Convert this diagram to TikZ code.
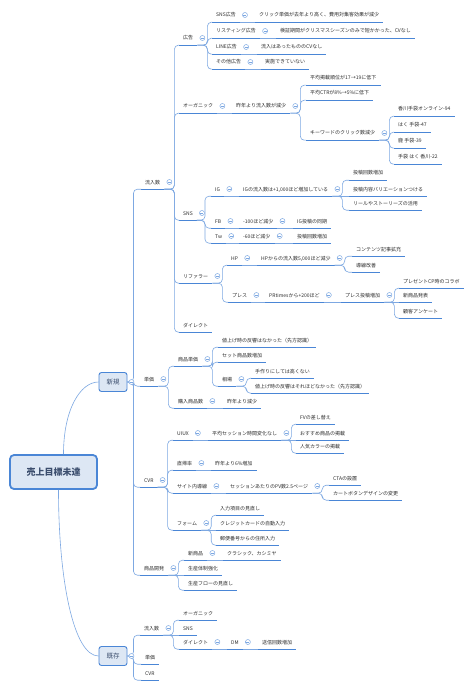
\documentclass[tikz,border=0pt]{standalone}
\usepackage{fontspec}
\setmainfont{Noto Sans CJK JP}
\usetikzlibrary{positioning}
\definecolor{cLine}{RGB}{74,134,214}
\definecolor{cLink}{RGB}{125,168,226}
\definecolor{cText}{RGB}{45,45,45}
\definecolor{cBox}{RGB}{221,231,244}
\definecolor{cBoxText}{RGB}{60,78,110}
\tikzset{
	uline/.style   ={draw=cLine, line width=1.1pt},
	topic/.style   ={anchor=west, xshift=-4pt, inner xsep=4pt, inner ysep=4pt, text height=5pt, text depth=1pt,
	                 font=\fontsize{5}{6}\selectfont, text=cText,
	                 append after command={(\tikzlastnode.south west) edge[uline] (\tikzlastnode.south east)}},
	conn/.style    ={draw=cLink, line width=0.6pt, rounded corners=4pt},
	fold/.style    ={circle, draw=cLink, fill=white, line width=0.5pt, minimum size=5pt, inner sep=0pt,
	                 path picture={\draw[cLink, line width=0.5pt] ([xshift=-1.5pt]path picture bounding box.center) -- ([xshift=1.5pt]path picture bounding box.center);}},
	rootbox/.style ={rectangle, rounded corners=4pt, draw=cLine, line width=1.8pt, fill=cBox, minimum width=87pt, minimum height=34pt,
	                 font=\fontsize{9}{11}\selectfont\bfseries, text=cBoxText},
	mainbox/.style ={rectangle, rounded corners=2.5pt, draw=cLine, line width=0.9pt, fill=cBox, minimum width=28pt, minimum height=19pt,
	                 font=\fontsize{6.5}{8}\selectfont, text=cBoxText},
}
\begin{document}
\begin{tikzpicture}[x=1pt, y=-1pt]
	\fill[white] (0,0) rectangle (474,687);
	\useasboundingbox (0,0) rectangle (474,687);
	% main boxes
	\node[rootbox] (root) at (53.5,472) {売上目標未達};
	\node[mainbox] (new) at (113,382) {新規};
	\node[mainbox] (exist) at (113,656) {既存};
	% 新規 / 流入数
	\node[topic] (nIn) at (145,182) {流入数};
	\node[topic] (ad) at (183,38) {広告};
	\node[topic] (adSns) at (216,15) {SNS広告};
	\node[topic] (adSnsR) at (259,15) {クリック単価が去年より高く、費用対集客効果が減少};
	\node[topic] (adList) at (216,31) {リスティング広告};
	\node[topic] (adListR) at (280,31) {検証期間がクリスマスシーズンのみで短かかった、CVなし};
	\node[topic] (adLine) at (216,47) {LINE広告};
	\node[topic] (adLineR) at (261,47) {流入はあったもののCVなし};
	\node[topic] (adOth) at (216,62) {その他広告};
	\node[topic] (adOthR) at (265,62) {実施できていない};
	\node[topic] (org) at (183,106) {オーガニック};
	\node[topic] (orgR) at (236,106) {昨年より流入数が減少};
	\node[topic] (orgA) at (310,78) {平均掲載順位が17→19に低下};
	\node[topic] (orgB) at (310,93) {平均CTRが8\%→5\%に低下};
	\node[topic] (orgK) at (310,133) {キーワードのクリック数減少};
	\node[topic] (kwA) at (398,109) {香川手袋オンライン-94};
	\node[topic] (kwB) at (398,125) {はく 手袋-47};
	\node[topic] (kwC) at (398,141) {鹿 手袋-39};
	\node[topic] (kwD) at (398,157) {手袋 はく 香川-22};
	\node[topic] (sns) at (183,213) {SNS};
	\node[topic] (ig) at (215,189) {IG};
	\node[topic] (igR) at (243,189) {IGの流入数は+1,000ほど増加している};
	\node[topic] (igA) at (353,173) {投稿回数増加};
	\node[topic] (igB) at (353,189) {投稿内容バリエーションつける};
	\node[topic] (igC) at (353,203) {リールやストーリーズの活用};
	\node[topic] (fb) at (215,221) {FB};
	\node[topic] (fbR) at (243,221) {-100ほど減少};
	\node[topic] (fbS) at (297,221) {IG投稿の同期};
	\node[topic] (tw) at (215,236) {Tw};
	\node[topic] (twR) at (243,236) {-60ほど減少};
	\node[topic] (twS) at (297,236) {投稿回数増加};
	\node[topic] (ref) at (183,276) {リファラー};
	\node[topic] (hp) at (231,258) {HP};
	\node[topic] (hpR) at (261,258) {HPからの流入数5,000ほど減少};
	\node[topic] (hpA) at (356,249) {コンテンツ記事拡充};
	\node[topic] (hpB) at (356,265) {導線改善};
	\node[topic] (pr) at (232,295) {プレス};
	\node[topic] (prR) at (269,295) {PRtimesから+200ほど};
	\node[topic] (prS) at (345,295) {プレス投稿増加};
	\node[topic] (prA) at (403,281) {プレゼントCP時のコラボ};
	\node[topic] (prB) at (403,295) {新商品発表};
	\node[topic] (prC) at (403,311) {顧客アンケート};
	\node[topic] (dir) at (183,325) {ダイレクト};
	% 新規 / 単価
	\node[topic] (nPr) at (144,379) {単価};
	\node[topic] (prc) at (178,359) {商品単価};
	\node[topic] (prcA) at (222,340) {値上げ時の反響はなかった（先方認識）};
	\node[topic] (prcB) at (222,355) {セット商品数増加};
	\node[topic] (mkt) at (222,379) {相場};
	\node[topic] (mktA) at (255,371) {手作りにしては高くない};
	\node[topic] (mktB) at (255,386) {値上げ時の反響はそれほどなかった（先方認識）};
	\node[topic] (qty) at (178,401) {購入商品数};
	\node[topic] (qtyR) at (227,401) {昨年より減少};
	% 新規 / CVR
	\node[topic] (cvr) at (144,480) {CVR};
	\node[topic] (ux) at (177,433) {UIUX};
	\node[topic] (uxR) at (212,433) {平均セッション時間変化なし};
	\node[topic] (uxA) at (300,417) {FVの差し替え};
	\node[topic] (uxB) at (300,433) {おすすめ商品の掲載};
	\node[topic] (uxC) at (300,446) {人気カラーの掲載};
	\node[topic] (bnc) at (177,463) {直帰率};
	\node[topic] (bncR) at (215,463) {昨年より6\%増加};
	\node[topic] (nav) at (177,486) {サイト内導線};
	\node[topic] (navR) at (230,486) {セッションあたりのPV数2.5ページ};
	\node[topic] (navA) at (333,478) {CTAの設置};
	\node[topic] (navB) at (333,493) {カートボタンデザインの変更};
	\node[topic] (frm) at (177,523) {フォーム};
	\node[topic] (frmA) at (220,508) {入力項目の見直し};
	\node[topic] (frmB) at (220,523) {クレジットカードの自動入力};
	\node[topic] (frmC) at (220,538) {郵便番号からの住所入力};
	% 新規 / 商品開発
	\node[topic] (dev) at (144,568) {商品開発};
	\node[topic] (devN) at (188,553) {新商品};
	\node[topic] (devNR) at (227,553) {クラシック、カシミヤ};
	\node[topic] (devA) at (188,568) {生産体制強化};
	\node[topic] (devB) at (188,583) {生産フローの見直し};
	% 既存
	\node[topic] (eIn) at (144,628) {流入数};
	\node[topic] (eOrg) at (183,613) {オーガニック};
	\node[topic] (eSns) at (183,628) {SNS};
	\node[topic] (eDir) at (183,642) {ダイレクト};
	\node[topic] (eDm) at (231,642) {DM};
	\node[topic] (eDmR) at (262,642) {送信回数増加};
	\node[topic] (ePr) at (145,657) {単価};
	\node[topic] (eCvr) at (145,673) {CVR};
	% connectors
	\draw[conn] ([xshift=10pt]root.north) .. controls +(0,-45) and +(-18,0) .. (new.west);
	\draw[conn] ([xshift=5pt]root.south) .. controls +(0,90) and +(-25,0) .. (exist.west);
	\foreach \c in {nIn,nPr,cvr,dev} \draw[conn] (new.east) -- ++(6,0) |- (\c.south west);
	\foreach \c in {eIn,ePr,eCvr} \draw[conn] (exist.east) -- ++(6,0) |- (\c.south west);
	\foreach \c in {ad,org,sns,ref,dir} \draw[conn] (nIn.south east) -- ++(10,0) |- (\c.south west);
	\foreach \c in {adSns,adList,adLine,adOth} \draw[conn] (ad.south east) -- ++(10,0) |- (\c.south west);
	\foreach \c in {orgA,orgB,orgK} \draw[conn] (orgR.south east) -- ++(10,0) |- (\c.south west);
	\foreach \c in {kwA,kwB,kwC,kwD} \draw[conn] (orgK.south east) -- ++(10,0) |- (\c.south west);
	\foreach \c in {ig,fb,tw} \draw[conn] (sns.south east) -- ++(8,0) |- (\c.south west);
	\foreach \c in {igA,igC} \draw[conn] (igR.south east) -- ++(10,0) |- (\c.south west);
	\foreach \c in {hp,pr} \draw[conn] (ref.south east) -- ++(10,0) |- (\c.south west);
	\foreach \c in {hpA,hpB} \draw[conn] (hpR.south east) -- ++(10,0) |- (\c.south west);
	\foreach \c in {prA,prC} \draw[conn] (prS.south east) -- ++(10,0) |- (\c.south west);
	\foreach \c in {prc,qty} \draw[conn] (nPr.south east) -- ++(10,0) |- (\c.south west);
	\foreach \c in {prcA,prcB,mkt} \draw[conn] (prc.south east) -- ++(10,0) |- (\c.south west);
	\foreach \c in {mktA,mktB} \draw[conn] (mkt.south east) -- ++(10,0) |- (\c.south west);
	\foreach \c in {ux,bnc,nav,frm} \draw[conn] (cvr.south east) -- ++(10,0) |- (\c.south west);
	\foreach \c in {uxA,uxC} \draw[conn] (uxR.south east) -- ++(10,0) |- (\c.south west);
	\foreach \c in {navA,navB} \draw[conn] (navR.south east) -- ++(10,0) |- (\c.south west);
	\foreach \c in {frmA,frmC} \draw[conn] (frm.south east) -- ++(10,0) |- (\c.south west);
	\foreach \c in {devN,devB} \draw[conn] (dev.south east) -- ++(10,0) |- (\c.south west);
	\foreach \c in {eOrg,eDir} \draw[conn] (eIn.south east) -- ++(10,0) |- (\c.south west);
	% straight links on one level
	\draw[conn] (adSns.south east) -- (adSnsR.south west);
	\draw[conn] (adList.south east) -- (adListR.south west);
	\draw[conn] (adLine.south east) -- (adLineR.south west);
	\draw[conn] (adOth.south east) -- (adOthR.south west);
	\draw[conn] (org.south east) -- (orgR.south west);
	\draw[conn] (ig.south east) -- (igR.south west);
	\draw[conn] (igR.south east) -- (igB.south west);
	\draw[conn] (fb.south east) -- (fbR.south west);
	\draw[conn] (fbR.south east) -- (fbS.south west);
	\draw[conn] (tw.south east) -- (twR.south west);
	\draw[conn] (twR.south east) -- (twS.south west);
	\draw[conn] (hp.south east) -- (hpR.south west);
	\draw[conn] (pr.south east) -- (prR.south west);
	\draw[conn] (prR.south east) -- (prS.south west);
	\draw[conn] (prS.south east) -- (prB.south west);
	\draw[conn] (qty.south east) -- (qtyR.south west);
	\draw[conn] (ux.south east) -- (uxR.south west);
	\draw[conn] (uxR.south east) -- (uxB.south west);
	\draw[conn] (bnc.south east) -- (bncR.south west);
	\draw[conn] (nav.south east) -- (navR.south west);
	\draw[conn] (frm.south east) -- (frmB.south west);
	\draw[conn] (devN.south east) -- (devNR.south west);
	\draw[conn] (dev.south east) -- (devA.south west);
	\draw[conn] (eIn.south east) -- (eSns.south west);
	\draw[conn] (eDir.south east) -- (eDm.south west);
	\draw[conn] (eDm.south east) -- (eDmR.south west);
	% fold buttons
	\foreach \p in {new,exist} \node[fold] at ([xshift=4pt]\p.east) {};
	\foreach \p in {nIn,ad,adSns,adList,adLine,adOth,org,orgR,orgK,sns,ig,igR,fb,fbR,tw,twR,ref,hp,hpR,pr,prR,prS,
		nPr,prc,mkt,qty,cvr,ux,uxR,bnc,nav,navR,frm,dev,devN,eIn,eDir,eDm}
		\node[fold] at ([xshift=5pt]\p.east) {};
\end{tikzpicture}
\end{document}
